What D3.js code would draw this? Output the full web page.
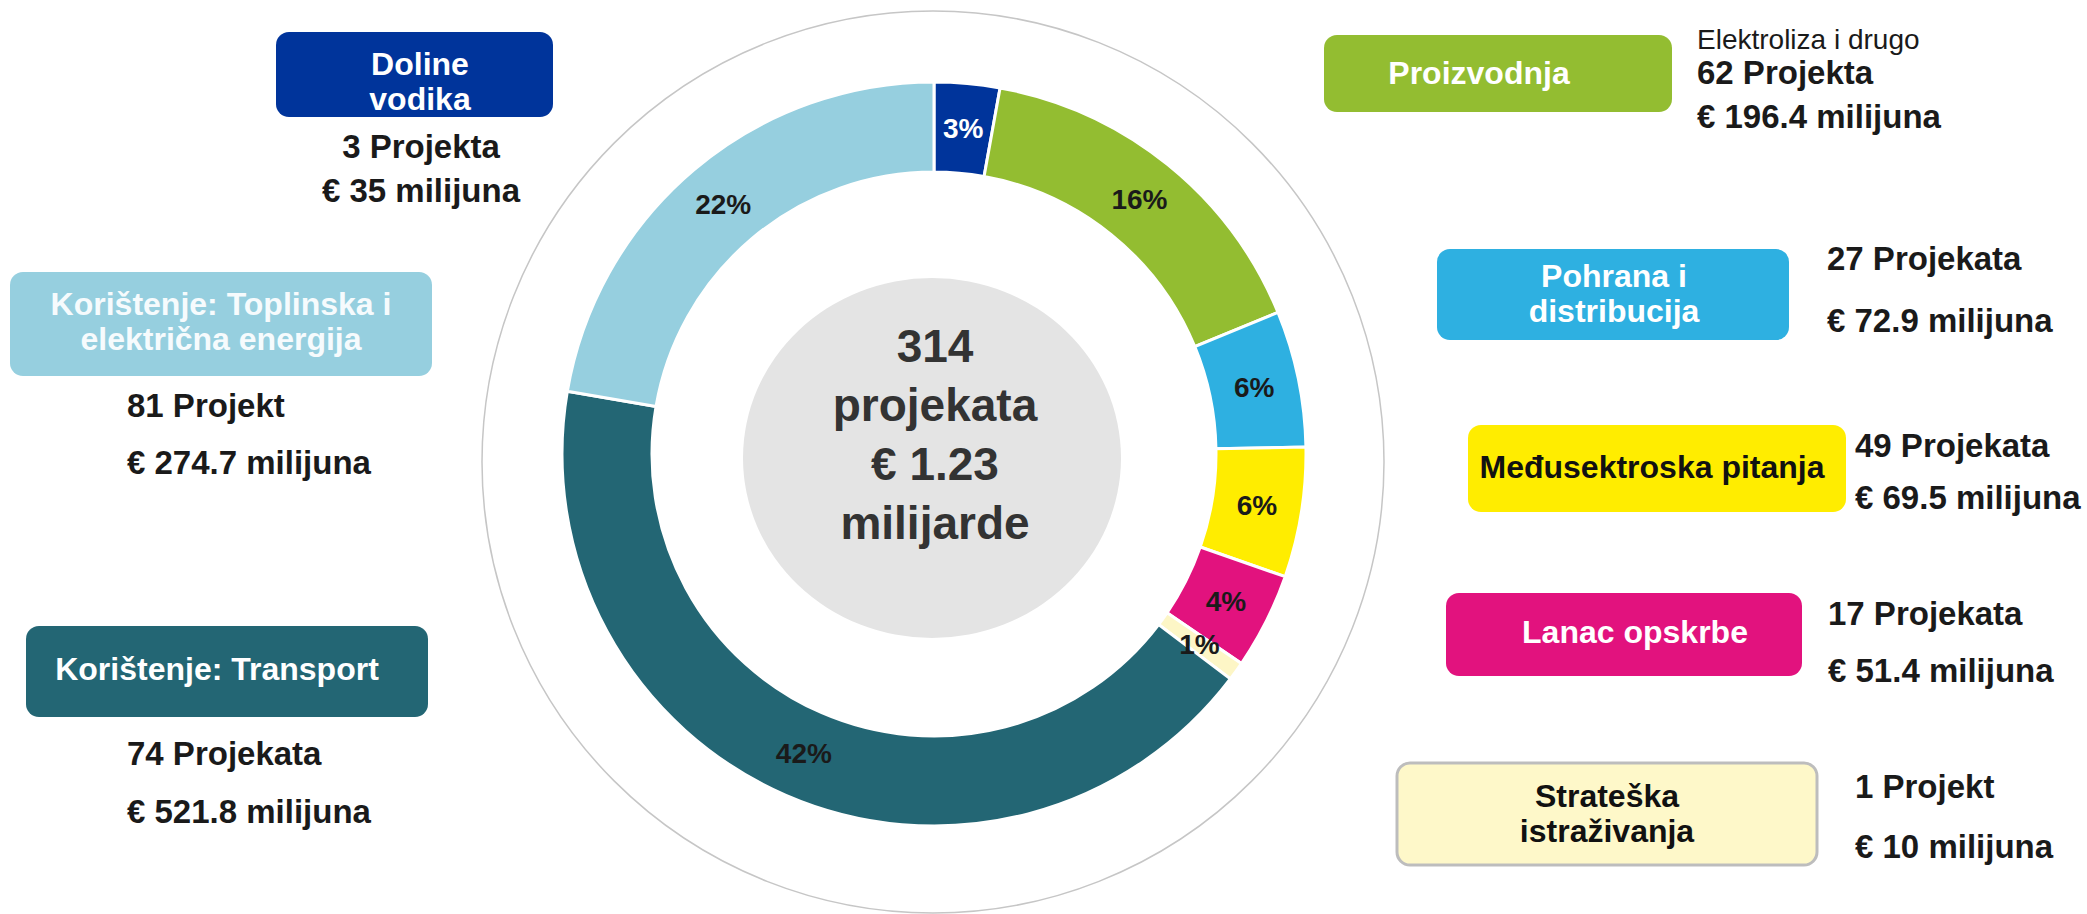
<!DOCTYPE html>
<html lang="hr">
<head>
<meta charset="UTF-8">
<title>Vodik - projekti po sektorima</title>
<script src="https://cdnjs.cloudflare.com/ajax/libs/d3/7.8.5/d3.min.js"></script>
<style>
    body {
        margin: 0;
        background: #ffffff;
        font-family: Arial, "Liberation Sans", sans-serif;
    }
    svg { display: block; }
    .pct { font-size: 28px; font-weight: bold; text-anchor: middle; dominant-baseline: central; }
    .box-label { font-size: 32px; font-weight: bold; text-anchor: middle; }
    .info { font-size: 33px; font-weight: bold; fill: #1a1a1a; }
    .note { font-size: 28px; fill: #1a1a1a; }
    .center-text { font-size: 46px; font-weight: bold; fill: #333333; text-anchor: middle; }
</style>
</head>
<body>
<svg id="chart" width="2087" height="914"></svg>
<script>
    // data (clockwise from the top)
    const categories = ["Doline vodika", "Proizvodnja", "Pohrana i distribucija", "Međusektroska pitanja",
        "Lanac opskrbe", "Strateška istraživanja", "Korištenje: Transport",
        "Korištenje: Toplinska i električna energija"];
    const funding = [35, 196.4, 72.9, 69.5, 51.4, 10, 521.8, 274.7];   // € milijuna
    const projects = [3, 62, 27, 49, 17, 1, 74, 81];
    const projectWord = ["Projekta", "Projekta", "Projekata", "Projekata", "Projekata", "Projekt", "Projekata", "Projekt"];
    const boxLines = [
        ["Doline", "vodika"],
        ["Proizvodnja"],
        ["Pohrana i", "distribucija"],
        ["Međusektroska pitanja"],
        ["Lanac opskrbe"],
        ["Strateška", "istraživanja"],
        ["Korištenje: Transport"],
        ["Korištenje: Toplinska i", "električna energija"]
    ];
    const notes = ["", "Elektroliza i drugo", "", "", "", "", "", ""];

    const colors = ["#00349b", "#93bd31", "#2eb0e1", "#ffed00", "#e2127e", "#fdf6c6", "#236674", "#96cfdf"];
    const boxColors = ["#00349b", "#93bd31", "#2eb0e1", "#ffed00", "#e2127e", "#fef8c9", "#236674", "#96cfdf"];
    const boxTextColors = ["#ffffff", "#ffffff", "#ffffff", "#111111", "#ffffff", "#111111", "#ffffff", "#f6fbfd"];
    const pctColors = ["#ffffff", "#1a1a1a", "#1a1a1a", "#1a1a1a", "#1a1a1a", "#1a1a1a", "#1a1a1a", "#1a1a1a"];

    // placement of the call-out boxes
    const layout = [
        { x: 276, y: 32, w: 277, h: 85, cx: 420, ty: 75, ix: 421, anchor: "middle", iy: [158, 202] },
        { x: 1324, y: 35, w: 348, h: 77, cx: 1479, ty: 84, ix: 1697, anchor: "start", iy: [84, 128], ny: 49 },
        { x: 1437, y: 249, w: 352, h: 91, cx: 1614, ty: 287, ix: 1827, anchor: "start", iy: [270, 332] },
        { x: 1468, y: 425, w: 378, h: 87, cx: 1652, ty: 478, ix: 1855, anchor: "start", iy: [457, 509] },
        { x: 1446, y: 593, w: 356, h: 83, cx: 1635, ty: 643, ix: 1828, anchor: "start", iy: [625, 682] },
        { x: 1397, y: 763, w: 420, h: 102, cx: 1607, ty: 807, ix: 1855, anchor: "start", iy: [798, 858], stroke: "#bdbdbd" },
        { x: 26, y: 626, w: 402, h: 91, cx: 217, ty: 680, ix: 127, anchor: "start", iy: [765, 823] },
        { x: 10, y: 272, w: 422, h: 104, cx: 221, ty: 315, ix: 127, anchor: "start", iy: [417, 474] }
    ];

    const data = categories.map((c, i) => ({ name: c, funding: funding[i], projects: projects[i], i }));
    const total = d3.sum(funding);
    const totalProjects = d3.sum(projects);

    const svg = d3.select("#chart");
    const cx = 934, cy = 454;
    const outerR = 372, innerR = 282;

    // thin grey ring around everything
    svg.append("circle")
        .attr("cx", 933).attr("cy", 462).attr("r", 451)
        .attr("fill", "none")
        .attr("stroke", "#c6c6c6")
        .attr("stroke-width", 1.5);

    const g = svg.append("g").attr("transform", `translate(${cx},${cy})`);

    const pie = d3.pie().sort(null).value(d => d.funding);
    const arc = d3.arc().innerRadius(innerR).outerRadius(outerR);
    const arcs = pie(data);

    g.selectAll("path.slice")
        .data(arcs)
        .enter()
        .append("path")
        .attr("class", "slice")
        .attr("d", arc)
        .attr("fill", d => colors[d.data.i])
        .attr("stroke", "#ffffff")
        .attr("stroke-width", 3);

    const fmtPct = d3.format(".0%");
    g.selectAll("text.pct")
        .data(arcs)
        .enter()
        .append("text")
        .attr("class", "pct")
        .attr("transform", d => `translate(${arc.centroid(d)})`)
        .attr("fill", d => pctColors[d.data.i])
        .text(d => fmtPct(d.data.funding / total));

    // grey disc in the middle with the totals
    svg.append("ellipse")
        .attr("cx", 932).attr("cy", 458)
        .attr("rx", 189).attr("ry", 180)
        .attr("fill", "#e4e4e4");

    const centerLines = [
        `${totalProjects}`,
        "projekata",
        `€ ${d3.format(".2f")(total / 1000)}`,
        "milijarde"
    ];
    svg.append("text")
        .attr("class", "center-text")
        .selectAll("tspan")
        .data(centerLines)
        .enter()
        .append("tspan")
        .attr("x", 935)
        .attr("y", (d, i) => 362 + i * 59)
        .text(d => d);

    // call-out boxes
    const boxes = svg.selectAll("g.box")
        .data(data)
        .enter()
        .append("g")
        .attr("class", "box");

    boxes.append("rect")
        .attr("x", d => layout[d.i].x)
        .attr("y", d => layout[d.i].y)
        .attr("width", d => layout[d.i].w)
        .attr("height", d => layout[d.i].h)
        .attr("rx", 13)
        .attr("fill", d => boxColors[d.i])
        .attr("stroke", d => layout[d.i].stroke || "none")
        .attr("stroke-width", 3);

    boxes.append("text")
        .attr("class", "box-label")
        .attr("fill", d => boxTextColors[d.i])
        .selectAll("tspan")
        .data(d => boxLines[d.i].map((t, k) => ({ t, k, i: d.i })))
        .enter()
        .append("tspan")
        .attr("x", d => layout[d.i].cx)
        .attr("y", d => layout[d.i].ty + d.k * 35)
        .text(d => d.t);

    boxes.append("text")
        .attr("class", "info")
        .attr("text-anchor", d => layout[d.i].anchor)
        .selectAll("tspan")
        .data(d => [
            `${d.projects} ${projectWord[d.i]}`,
            `€ ${d.funding} milijuna`
        ].map((t, k) => ({ t, k, i: d.i })))
        .enter()
        .append("tspan")
        .attr("x", d => layout[d.i].ix)
        .attr("y", d => layout[d.i].iy[d.k])
        .text(d => d.t);

    boxes.filter(d => notes[d.i])
        .append("text")
        .attr("class", "note")
        .attr("x", d => layout[d.i].ix)
        .attr("y", d => layout[d.i].ny)
        .text(d => notes[d.i]);
</script>
</body>
</html>
